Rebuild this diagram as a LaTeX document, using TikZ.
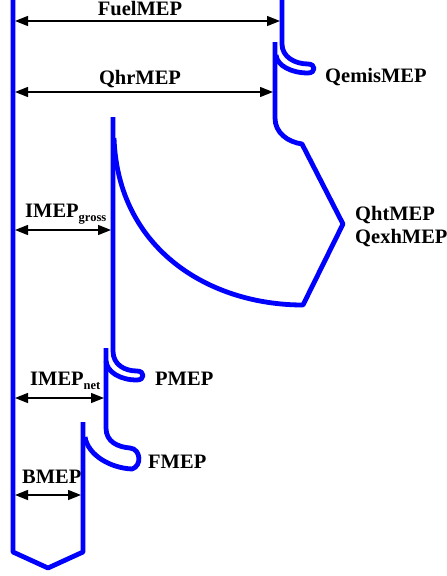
\documentclass[tikz,border=0pt]{standalone}
\usepackage{fontspec}
\setmainfont{Liberation Serif}
\usetikzlibrary{arrows.meta}
\begin{document}
\begin{tikzpicture}[x=1pt,y=-1pt,
  flow/.style={draw={rgb,255:red,0;green,0;blue,255}, line width=4.8pt, line join=round},
  dim/.style={draw=black, line width=1.4pt, {Triangle[length=13pt,width=10pt]}-{Triangle[length=13pt,width=10pt]}},
  lbl/.style={font=\fontsize{20.5}{22}\selectfont\bfseries, inner sep=0pt}]
\newcommand{\mysub}[1]{\raisebox{-4pt}{\fontsize{12.5}{13}\selectfont\bfseries #1}}
\useasboundingbox (0,0) rectangle (447,576);
% blue flow outlines
\draw[flow] (13,0) -- (13,552) -- (48,568) -- (83,552) -- (83,422);
\draw[flow] (106,348) -- (106,428) .. controls (106,442) and (118,447) .. (130,448)
  .. controls (141,449) and (142,466) .. (132,469) .. controls (110,468) and (88,455) .. (85,437);
\draw[flow] (113,117) -- (113,351) .. controls (113,365) and (125,371) .. (137,371)
  .. controls (145,371) and (145,380) .. (137,380) .. controls (120,380) and (107,372) .. (106,361);
\draw[flow] (282,0) -- (282,44) .. controls (282,57) and (295,64) .. (308,64)
  .. controls (316,64) and (316,73) .. (308,73) .. controls (292,73) and (277,66) .. (276,55);
\draw[flow] (275,42) -- (275,118) .. controls (275,133) and (288,142) .. (302,144)
  -- (343,224) -- (303,305) .. controls (210,305) and (118,250) .. (114,138);
% dimension arrow ends
\coordinate (fuelL) at (15,21);  \coordinate (fuelR) at (280,21);
\coordinate (qhrL) at (15,92);   \coordinate (qhrR) at (273,92);
\coordinate (grL) at (15,230);   \coordinate (grR) at (111,230);
\coordinate (netL) at (15,398);  \coordinate (netR) at (104,398);
\coordinate (bL) at (15,495);    \coordinate (bR) at (81,495);
\draw[dim] (fuelL) -- (fuelR);
\draw[dim] (qhrL) -- (qhrR);
\draw[dim] (grL) -- (grR);
\draw[dim] (netL) -- (netR);
\draw[dim] (bL) -- (bR);
% labels
\node[lbl, anchor=base] (tfuel) at (140,15) {FuelMEP};
\node[lbl, anchor=base] (tqhr) at (140,84) {QhrMEP};
\node[lbl, anchor=base west] (tqemis) at (325,82) {QemisMEP};
\node[lbl, anchor=base west] (tgross) at (25,217) {IMEP\mysub{gross}};
\node[lbl, anchor=base west] (tqht) at (355,220) {QhtMEP};
\node[lbl, anchor=base west] (tqexh) at (355,243) {QexhMEP};
\node[lbl, anchor=base west] (tpmep) at (155,385) {PMEP};
\node[lbl, anchor=base west] (tnet) at (30,385) {IMEP\mysub{net}};
\node[lbl, anchor=base west] (tfmep) at (148,468) {FMEP};
\node[lbl, anchor=base west] (tbmep) at (22,483) {BMEP};
\end{tikzpicture}
\end{document}
